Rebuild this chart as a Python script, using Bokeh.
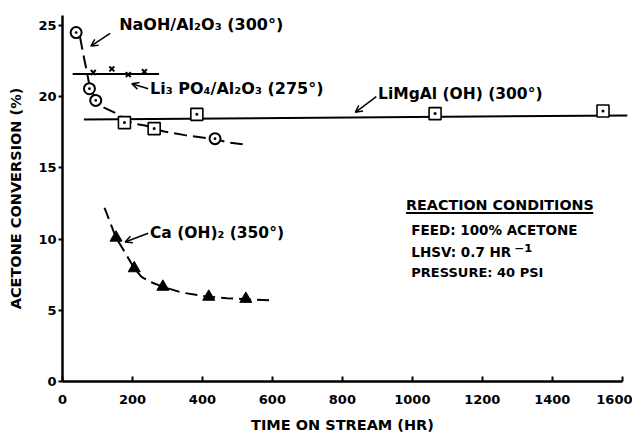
from bokeh.plotting import figure
from bokeh.models import Range1d, FixedTicker, Label, Arrow, OpenHead
from bokeh.embed import file_html
from bokeh.resources import INLINE

# ---- data ----
naoh_x = [39, 77, 95, 436]
naoh_y = [24.5, 20.56, 19.74, 17.05]
naoh_curve_x = [50, 60, 70, 77, 95, 116, 153, 177, 202, 236, 287, 350, 436, 470, 515]
naoh_curve_y = [24.2, 22.9, 21.7, 20.8, 19.8, 19.26, 18.83, 18.45, 18.12, 17.98, 17.57, 17.3, 17.02, 16.8, 16.66]

li3po4_x = [88, 141, 188, 234]
li3po4_y = [21.7, 21.95, 21.55, 21.75]
li3po4_line_x = [29, 276]
li3po4_line_y = [21.6, 21.6]

limgal_x = [177, 262, 384, 1065, 1545]
limgal_y = [18.18, 17.76, 18.76, 18.81, 18.99]
limgal_line_x = [61, 1615]
limgal_line_y = [18.4, 18.68]

caoh_x = [153, 205, 287, 418, 524]
caoh_y = [10.1, 7.95, 6.65, 5.95, 5.8]
caoh_curve_x = [120, 153, 180, 205, 226, 250, 287, 340, 418, 470, 524, 592]
caoh_curve_y = [12.2, 10.1, 9.0, 7.95, 7.35, 7.0, 6.65, 6.25, 5.95, 5.85, 5.78, 5.7]

x_ticks = [0, 200, 400, 600, 800, 1000, 1200, 1400, 1600]
y_ticks = [0, 5, 10, 15, 20, 25]

FONT = "DejaVu Sans"

p = figure(width=632, height=439, x_range=Range1d(0, 1615), y_range=Range1d(0, 25.7),
           output_backend="svg", toolbar_location=None,
           min_border_left=62, min_border_right=5, min_border_top=15, min_border_bottom=58)
p.outline_line_color = None
p.xgrid.visible = False
p.ygrid.visible = False
p.background_fill_color = "white"

# axes
p.xaxis.ticker = FixedTicker(ticks=x_ticks)
p.yaxis.ticker = FixedTicker(ticks=y_ticks)
p.xaxis.bounds = (0, 1600)
p.xaxis.minor_tick_line_color = None
p.yaxis.minor_tick_line_color = None
for ax in (p.xaxis, p.yaxis):
    ax.axis_line_width = 2.5
    ax.axis_line_color = "black"
    ax.major_tick_line_width = 2
    ax.major_tick_line_color = "black"
    ax.major_label_text_font = FONT
    ax.major_label_text_font_style = "bold"
    ax.major_label_text_font_size = "13px"
    ax.major_label_text_color = "black"
    ax.axis_label_text_font = FONT
    ax.axis_label_text_font_style = "bold"
    ax.axis_label_text_font_size = "14.5px"
    ax.axis_label_text_color = "black"
p.xaxis.major_tick_in = 5
p.xaxis.major_tick_out = 0
p.xaxis.major_label_standoff = 13
p.xaxis.axis_label = "TIME ON STREAM  (HR)"
p.xaxis.axis_label_standoff = 10
p.yaxis.major_tick_in = 0
p.yaxis.major_tick_out = 4
p.yaxis.major_label_standoff = 2
p.yaxis.axis_label = "ACETONE CONVERSION (%)"
p.yaxis.axis_label_standoff = 11

# NaOH/Al2O3
p.line(naoh_curve_x, naoh_curve_y, line_color="black", line_width=2, line_dash="13 6")
p.scatter(naoh_x, naoh_y, marker="circle_dot", size=11, line_width=2, line_color="black", fill_color="white")

# Li3PO4/Al2O3
p.line(li3po4_line_x, li3po4_line_y, line_color="black", line_width=2)
p.scatter(li3po4_x, li3po4_y, marker="x", size=7, line_width=2, line_color="black")

# LiMgAl(OH)
p.line(limgal_line_x, limgal_line_y, line_color="black", line_width=2)
p.scatter(limgal_x, limgal_y, marker="square_dot", size=12, line_width=1.6, line_color="black", fill_color="white")

# Ca(OH)2
p.line(caoh_curve_x, caoh_curve_y, line_color="black", line_width=2, line_dash="12 6")
p.scatter(caoh_x, caoh_y, marker="triangle", size=12, line_color="black", fill_color="black")

def lab(x, y, t, size="14px"):
    p.add_layout(Label(x=x, y=y, text=t, text_font=FONT, text_font_style="bold",
                       text_font_size=size, text_baseline="middle", text_align="left",
                       text_color="black"))

def arr(x0, y0, x1, y1):
    p.add_layout(Arrow(end=OpenHead(size=7, line_width=1.5, line_color="black"),
                       x_start=x0, y_start=y0, x_end=x1, y_end=y1,
                       line_width=1.5, line_color="black"))

lab(162, 25.1, "NaOH/Al₂O₃ (300°)", "16px")
arr(136, 24.44, 81, 23.55)
lab(250, 20.55, "Li₃ PO₄/Al₂O₃ (275°)", "16px")
arr(245, 20.56, 198, 20.91)
lab(902, 20.2, "LiMgAl (OH) (300°)", "15.5px")
arr(897, 20.0, 837, 18.9)
lab(250, 10.4, "Ca (OH)₂ (350°)", "15.5px")
arr(245, 10.41, 179, 9.8)

lab(982, 12.38, "REACTION CONDITIONS", "14.3px")
p.add_layout(Arrow(end=None, x_start=982, y_start=11.84, x_end=1517, y_end=11.84,
                   line_width=2, line_color="black"))
lab(997, 10.62, "FEED: 100% ACETONE", "13.5px")
lab(997, 9.1, "LHSV: 0.7 HR", "13.5px")
lab(1291, 9.15, "⁻¹", "19px")
lab(997, 7.63, "PRESSURE: 40 PSI", "13px")

open("out.html", "w").write(file_html(p, INLINE))
